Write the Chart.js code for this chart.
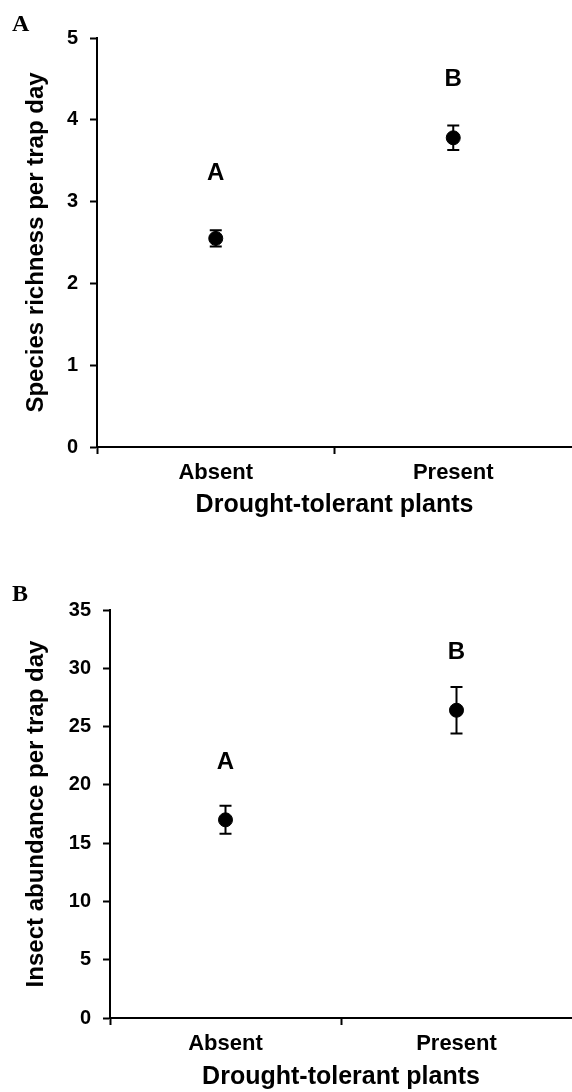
<!DOCTYPE html>
<html>
<head>
<meta charset="utf-8">
<script src="https://cdn.jsdelivr.net/npm/chart.js@4.4.0/dist/chart.umd.min.js"></script>
<style>
    html, body { margin: 0; padding: 0; background: #fff; overflow: hidden; width: 572px; }
    .panel { position: relative; width: 580px; }
    #panelA { height: 520px; }
    #panelB { height: 572px; }
</style>
</head>
<body>
<div class="panel" id="panelA"><canvas id="chartA"></canvas></div>
<div class="panel" id="panelB"><canvas id="chartB"></canvas></div>
<script>
const groups = ['Absent', 'Present'];

const richnessMean = [2.55, 3.78];
const richnessErr = [0.10, 0.15];
const richnessLetters = ['A', 'B'];
const richnessLetterAt = [3.35, 4.49];
const richnessTicks = [0, 1, 2, 3, 4, 5];

const abundanceMean = [17.0, 26.4];
const abundanceErr = [1.2, 2.0];
const abundanceLetters = ['A', 'B'];
const abundanceLetterAt = [21.9, 31.4];
const abundanceTicks = [0, 5, 10, 15, 20, 25, 30, 35];

const SANS = '"Liberation Sans", Arial, sans-serif';
const SERIF = '"Liberation Serif", "Times New Roman", serif';

// error bars + significance letters + panel letter, all placed through the scales
const markupPlugin = {
    id: 'markup',
    afterDatasetsDraw(chart, args, opts) {
        const ctx = chart.ctx;
        const x = chart.scales.x;
        const y = chart.scales.y;

        ctx.save();
        ctx.strokeStyle = '#000';
        ctx.lineWidth = 2;
        opts.means.forEach((m, i) => {
            const px = x.getPixelForValue(i);
            const top = y.getPixelForValue(m + opts.errs[i]);
            const bot = y.getPixelForValue(m - opts.errs[i]);
            ctx.beginPath();
            ctx.moveTo(px, top);
            ctx.lineTo(px, bot);
            ctx.moveTo(px - 6, top);
            ctx.lineTo(px + 6, top);
            ctx.moveTo(px - 6, bot);
            ctx.lineTo(px + 6, bot);
            ctx.stroke();
        });

        ctx.fillStyle = '#000';
        ctx.font = 'bold 24px ' + SANS;
        ctx.textAlign = 'center';
        ctx.textBaseline = 'middle';
        opts.letters.forEach((l, i) => {
            ctx.fillText(l, x.getPixelForValue(i), y.getPixelForValue(opts.letterAt[i]));
        });

        ctx.font = 'bold 24px ' + SERIF;
        ctx.textAlign = 'left';
        ctx.textBaseline = 'alphabetic';
        ctx.fillText(opts.panel, opts.panelX, opts.panelY);
        ctx.restore();
    }
};

function makePanel(canvasId, cfg) {
    return new Chart(document.getElementById(canvasId), {
        type: 'line',
        data: {
            labels: groups,
            datasets: [{
                data: cfg.means,
                showLine: false,
                pointRadius: 7,
                pointHoverRadius: 7,
                pointBackgroundColor: '#000',
                pointBorderColor: '#000',
                borderColor: '#000'
            }]
        },
        options: {
            responsive: true,
            maintainAspectRatio: false,
            animation: false,
            layout: { padding: { top: cfg.top, left: 0, right: 0, bottom: 0 } },
            plugins: {
                legend: { display: false },
                tooltip: { enabled: false },
                markup: {
                    means: cfg.means,
                    errs: cfg.errs,
                    letters: cfg.letters,
                    letterAt: cfg.letterAt,
                    panel: cfg.panel,
                    panelX: 12,
                    panelY: cfg.panelY
                }
            },
            scales: {
                x: {
                    type: 'category',
                    offset: true,
                    grid: {
                        offset: true,
                        drawOnChartArea: false,
                        tickLength: 7,
                        tickWidth: 2,
                        // the closing line at the far right falls outside the picture
                        tickColor: c => (c.tick ? '#000' : 'rgba(0,0,0,0)')
                    },
                    border: { color: '#000', width: 2 },
                    ticks: { color: '#000', padding: 6, font: { family: SANS, size: 22, weight: 'bold' } },
                    title: {
                        display: true,
                        text: 'Drought-tolerant plants',
                        color: '#000',
                        padding: 0,
                        font: { family: SANS, size: 25, weight: 'bold' }
                    },
                    afterFit: s => { s.height = cfg.xHeight; }
                },
                y: {
                    min: 0,
                    max: cfg.ticks[cfg.ticks.length - 1],
                    grid: { drawOnChartArea: false, tickLength: 7, tickWidth: 2, tickColor: '#000' },
                    border: { color: '#000', width: 2 },
                    afterBuildTicks: s => { s.ticks = cfg.ticks.map(v => ({ value: v })); },
                    ticks: { color: '#000', padding: 12, font: { family: SANS, size: 20, weight: 'bold' } },
                    title: {
                        display: true,
                        text: cfg.yTitle,
                        color: '#000',
                        padding: { top: 22, bottom: 0 },
                        font: { family: SANS, size: 24, weight: 'bold' }
                    },
                    afterFit: s => { s.width = cfg.yWidth; }
                }
            }
        },
        plugins: [markupPlugin]
    });
}

makePanel('chartA', {
    means: richnessMean,
    errs: richnessErr,
    letters: richnessLetters,
    letterAt: richnessLetterAt,
    ticks: richnessTicks,
    yTitle: 'Species richness per trap day',
    panel: 'A',
    panelY: 31,
    top: 38,
    xHeight: 73,
    yWidth: 97
});

makePanel('chartB', {
    means: abundanceMean,
    errs: abundanceErr,
    letters: abundanceLetters,
    letterAt: abundanceLetterAt,
    ticks: abundanceTicks,
    yTitle: 'Insect abundance per trap day',
    panel: 'B',
    panelY: 81,
    top: 90,
    xHeight: 74,
    yWidth: 110
});
</script>
</body>
</html>
